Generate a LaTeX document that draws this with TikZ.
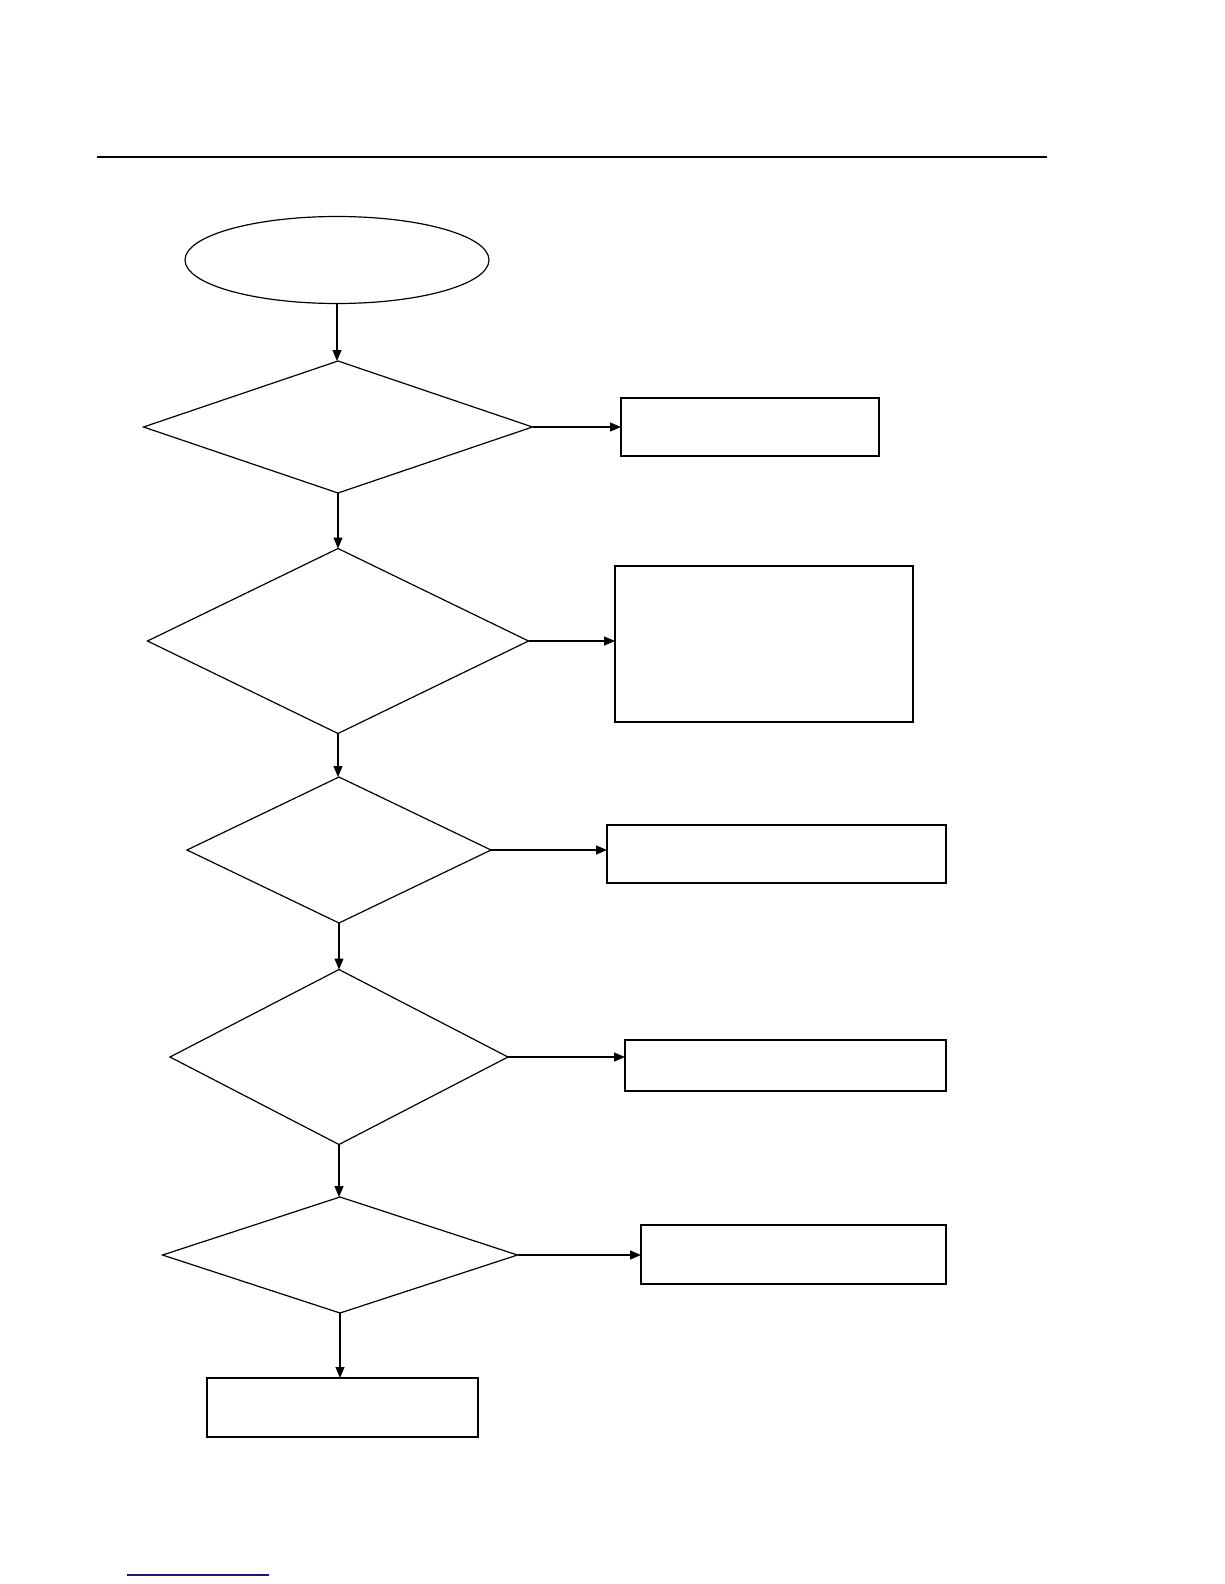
\documentclass[tikz,border=0pt]{standalone}
\usetikzlibrary{arrows.meta,shapes.geometric}
\definecolor{RuleClr}{RGB}{0,0,0}
\definecolor{LinkClr}{RGB}{20,20,140}

\begin{document}
\begin{tikzpicture}[x=1pt,y=-1pt,
  decision/.style={diamond,draw,line width=1.2pt,inner sep=0pt,outer sep=0pt},
  startstop/.style={ellipse,draw,line width=1.2pt,inner sep=0pt,outer sep=0pt,minimum width=304pt,minimum height=87pt},
  action/.style={rectangle,draw,line width=1.8pt,inner sep=0pt,outer sep=0pt},
  flow/.style={line width=1.2pt,-{Triangle[length=11pt,width=9pt]}}]
\useasboundingbox (0,0) rectangle (1224,1584);

\draw[line width=1.4pt,color=RuleClr] (97,157) -- (1047,157);

\node[startstop] (start) at (337,260) {};

\node[decision,minimum width=389pt,minimum height=132pt] (d1) at (338,427) {};
\node[decision,minimum width=381pt,minimum height=185pt] (d2) at (338,641) {};
\node[decision,minimum width=304pt,minimum height=146pt] (d3) at (339,850) {};
\node[decision,minimum width=338pt,minimum height=175pt] (d4) at (339,1057) {};
\node[decision,minimum width=355pt,minimum height=116pt] (d5) at (340,1255) {};

\node[action,minimum width=258pt,minimum height=58pt] (b1) at (750,427) {};
\node[action,minimum width=298pt,minimum height=156pt] (b2) at (764,644) {};
\node[action,minimum width=339pt,minimum height=58pt] (b3) at (776.5,854) {};
\node[action,minimum width=321pt,minimum height=51pt] (b4) at (785.5,1065.5) {};
\node[action,minimum width=305pt,minimum height=59pt] (b5) at (793.5,1254.5) {};
\node[action,minimum width=271pt,minimum height=59pt] (b6) at (342.5,1407.5) {};

% down the main line
\draw[flow] (start.south) -- (start.south |- d1.north);
\draw[flow] (d1.south) -- (d1.south |- d2.north);
\draw[flow] (d2.south) -- (d2.south |- d3.north);
\draw[flow] (d3.south) -- (d3.south |- d4.north);
\draw[flow] (d4.south) -- (d4.south |- d5.north);
\draw[flow] (d5.south) -- (d5.south |- b6.north);

% side exits
\draw[flow] (d1.east) -- (d1.east -| b1.west);
\draw[flow] (d2.east) -- (d2.east -| b2.west);
\draw[flow] (d3.east) -- (d3.east -| b3.west);
\draw[flow] (d4.east) -- (d4.east -| b4.west);
\draw[flow] (d5.east) -- (d5.east -| b5.west);

\draw[line width=1.6pt,color=LinkClr] (127,1575) -- (269,1575);
\end{tikzpicture}
\end{document}
